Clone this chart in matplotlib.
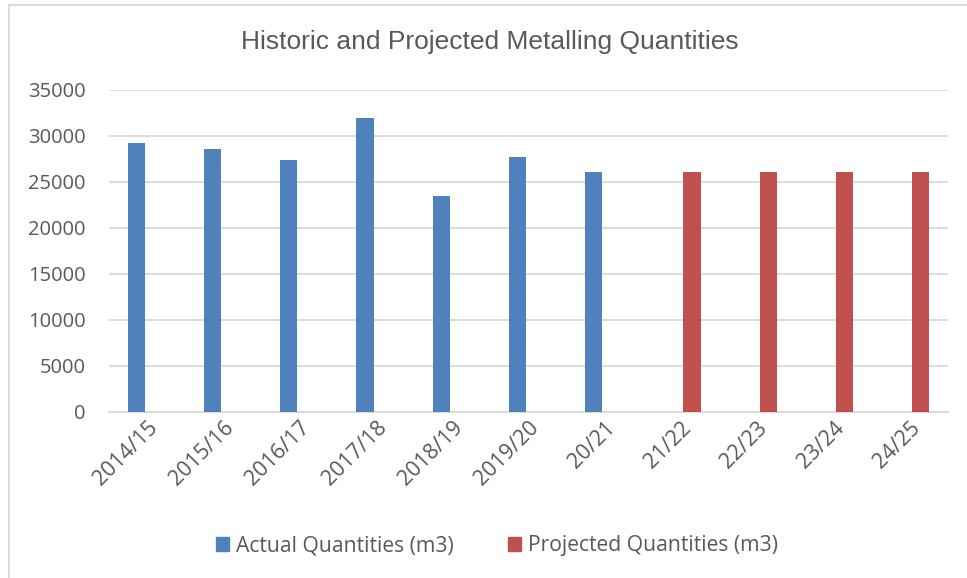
import matplotlib
matplotlib.use("Agg")
import matplotlib.pyplot as plt
import matplotlib.patches as mpatches
import numpy as np

categories = ['2014/15', '2015/16', '2016/17', '2017/18', '2018/19', '2019/20',
              '20/21', '21/22', '22/23', '23/24', '24/25']
actual = [29200, 28550, 27300, 31900, 23400, 27700, 26000, np.nan, np.nan, np.nan, np.nan]
projected = [np.nan] * 7 + [26000, 26000, 26000, 26000]
yticks = [0, 5000, 10000, 15000, 20000, 25000, 30000, 35000]
title = 'Historic and Projected Metalling Quantities'
series_names = ['Actual Quantities (m3)', 'Projected Quantities (m3)']

BLUE = '#4F81BD'
RED = '#C0504D'
TXT = '#595959'
GRID = '#D9D9D9'
LABEL_FONT = ['Open Sans', 'DejaVu Sans']

fig = plt.figure(figsize=(9.67, 5.78), dpi=100)
ax = fig.add_axes([0.113, 0.2877, 0.980 - 0.113, 0.845 - 0.2877])

x = np.arange(len(categories))
w = 0.227
off = 0.145
ax.bar(x - off, actual, width=w, color=BLUE, label=series_names[0], zorder=3)
ax.bar(x + off, projected, width=w, color=RED, label=series_names[1], zorder=3)

ax.set_xlim(-0.5, len(categories) - 0.5)
ax.set_ylim(0, 35000)
ax.set_yticks(yticks)
ax.set_yticklabels([str(v) for v in yticks], family=LABEL_FONT, fontsize=14.5, color=TXT)
ax.set_xticks(x)
ax.set_xticklabels(categories, rotation=45, ha='right', va='top', rotation_mode='anchor',
                   family=LABEL_FONT, fontsize=15.5, color=TXT)
ax.tick_params(axis='both', length=0)
ax.tick_params(axis='y', pad=17)
ax.tick_params(axis='x', pad=4)
ax.grid(axis='y', color=GRID, linewidth=1.3, zorder=0)
for s in ['top', 'right', 'left']:
    ax.spines[s].set_visible(False)
ax.spines['bottom'].set_color(GRID)
ax.spines['bottom'].set_linewidth(1.3)
ax.spines['bottom'].set_zorder(2)

fig.text(489.5 / 967, 1 - 42 / 578, title, ha='center', va='center',
         family=['Liberation Sans', 'DejaVu Sans'], fontsize=19, color=TXT)

handles = [mpatches.Patch(color=BLUE), mpatches.Patch(color=RED)]
fig.legend(handles, series_names, loc='center', bbox_to_anchor=(497 / 967, 1 - 546 / 578),
           ncol=2, frameon=False, prop={'family': LABEL_FONT, 'size': 15.2},
           labelcolor=TXT, handlelength=0.62, handleheight=0.62, handletextpad=0.3,
           columnspacing=2.6)

# chart area border
border = mpatches.Rectangle((8.5 / 967, -0.05), 1.1, 1 - 5.5 / 578 + 0.05,
                            transform=fig.transFigure, fill=False,
                            edgecolor=GRID, linewidth=1.3)
fig.patches.append(border)

fig.savefig('out.png', dpi=100)
